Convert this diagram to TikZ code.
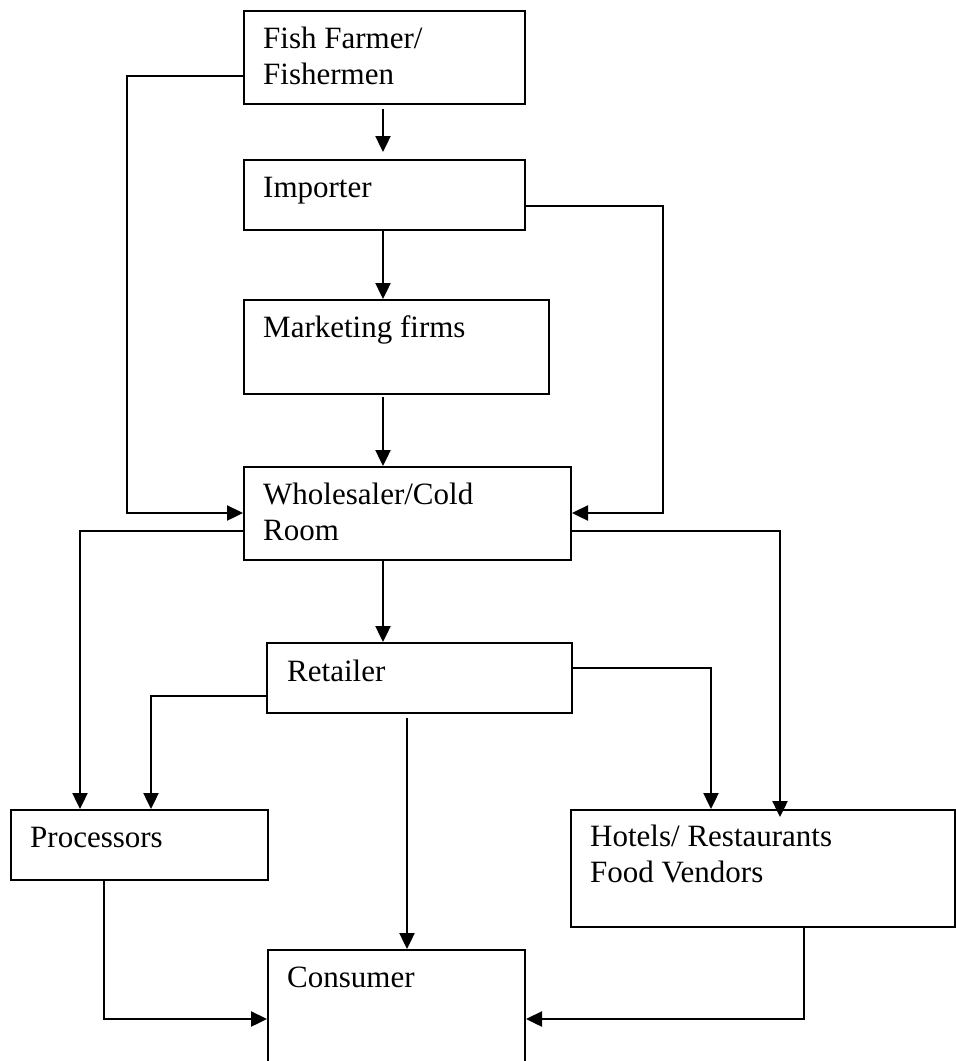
\documentclass[tikz,border=0pt]{standalone}
\usepackage{fontspec}
\setmainfont{Liberation Serif}
\usetikzlibrary{arrows.meta}
\tikzset{
	% box of one link in the chain
	stage/.style={draw,line width=2pt,inner sep=0pt,anchor=north west},
	% text in the upper left corner of a box (base = last line)
	stagetext/.style={anchor=base west,align=left,inner sep=0pt,font=\fontsize{31pt}{36pt}\selectfont},
	% connector with a filled head
	flow/.style={line width=2.4pt,-{Triangle[length=16pt,width=15pt]}},
}
\begin{document}
\begin{tikzpicture}[x=1pt,y=-1pt]
		\useasboundingbox (0,0) rectangle (956,1061);
		% boxes
		\node[stage,minimum width=281pt,minimum height=93pt] (fish) at (243,10) {};
		\node[stage,minimum width=281pt,minimum height=70pt] (importer) at (243,159) {};
		\node[stage,minimum width=305pt,minimum height=94pt] (marketing) at (243,299) {};
		\node[stage,minimum width=327pt,minimum height=93pt] (wholesale) at (243,466) {};
		\node[stage,minimum width=305pt,minimum height=70pt] (retail) at (266,642) {};
		\node[stage,minimum width=257pt,minimum height=70pt] (processors) at (10,809) {};
		\node[stage,minimum width=384pt,minimum height=117pt] (hotels) at (570,809) {};
		\node[stage,minimum width=257pt,minimum height=125pt] (consumer) at (267,949) {};
		\node[stagetext] (fishtext) at ([shift={(20,74.5)}]fish.north west) {Fish Farmer/\\Fishermen};
		\node[stagetext] (importertext) at ([shift={(20,38.5)}]importer.north west) {Importer};
		\node[stagetext] (marketingtext) at ([shift={(20,38.5)}]marketing.north west) {Marketing firms};
		\node[stagetext] (wholesaletext) at ([shift={(20,74.5)}]wholesale.north west) {Wholesaler/Cold\\Room};
		\node[stagetext] (retailtext) at ([shift={(21,39.5)}]retail.north west) {Retailer};
		\node[stagetext] (processorstext) at ([shift={(20,38.5)}]processors.north west) {Processors};
		\node[stagetext] (hotelstext) at ([shift={(20,73.5)}]hotels.north west) {Hotels/ Restaurants\\Food Vendors};
		\node[stagetext] (consumertext) at ([shift={(20,38.5)}]consumer.north west) {Consumer};
		% main line down the middle
		\draw[flow,shorten <=4pt,shorten >=7pt] ([xshift=140pt]fish.south west) -- ([xshift=140pt]importer.north west);
		\draw[flow] ([xshift=140pt]importer.south west) -- ([xshift=140pt]marketing.north west);
		\draw[flow,shorten <=2pt] ([xshift=140pt]marketing.south west) -- ([xshift=140pt]wholesale.north west);
		\draw[flow] ([xshift=140pt]wholesale.south west) -- ([xshift=117pt]retail.north west);
		% side routes into the wholesaler
		\draw[flow] (fish.west |- 0,76) -| (127,513) -- (wholesale.west |- 0,513);
		\draw[flow] (importer.east |- 0,206) -| (663,513) -- (wholesale.east |- 0,513);
		% from the wholesaler
		\draw[flow] (wholesale.west |- 0,531) -| (processors.north -| 80,0);
		\draw[flow,shorten >=-8pt] (wholesale.east |- 0,531) -| (hotels.north -| 780,0);
		% from the retailer
		\draw[flow] (retail.west |- 0,696) -| (processors.north -| 151,0);
		\draw[flow] (retail.east |- 0,668) -| (hotels.north -| 711,0);
		\draw[flow,shorten <=4pt] (retail.south -| 407,0) -- (consumer.north -| 407,0);
		% into the consumer
		\draw[flow] (processors.south -| 104,0) |- (consumer.west |- 0,1019);
		\draw[flow] (hotels.south -| 804,0) |- (consumer.east |- 0,1019);
\end{tikzpicture}
\end{document}
